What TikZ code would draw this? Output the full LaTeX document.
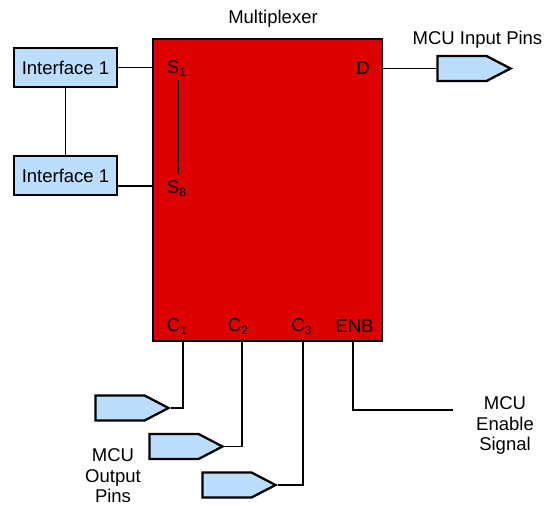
\documentclass[tikz,border=0pt]{standalone}
\usepackage{fontspec}
\setmainfont{Liberation Sans}
\usetikzlibrary{shapes.symbols}
\definecolor{muxred}{RGB}{221,0,0}
\definecolor{pinblue}{RGB}{187,222,255}
\newcommand{\lowsub}[1]{\raisebox{-3pt}{\fontsize{12}{12}\selectfont #1}}
\tikzset{
	iface/.style={draw, line width=0.8mm, fill=pinblue, minimum width=103pt, minimum height=39pt, inner sep=0pt},
	muxbox/.style={draw, line width=0.8mm, fill=muxred, minimum width=229pt, minimum height=302pt, inner sep=0pt},
	pinshape/.style={draw, line width=0.8mm, fill=pinblue, shape=signal, signal to=east, signal pointer angle=55, minimum width=73pt, minimum height=25pt, inner sep=0pt, anchor=east},
	lbl/.style={inner sep=0pt, font=\fontsize{18.5}{20.5}\selectfont, align=center},
	wire/.style={line width=0.6mm}
}
\begin{document}
\begin{tikzpicture}[x=1pt, y=-1pt]
			%%%%% START %%%%%
			\useasboundingbox (0, 0) rectangle (544, 506);
			
			\node[muxbox] (mux) at (267.5, 190) {};
			\node[lbl] (title) at (273, 19) {Multiplexer};
			
			\node[iface] (if1) at (65.5, 67.5) {\fontsize{18.5}{20}\selectfont Interface 1};
			\node[iface] (if2) at (65.5, 175.5) {\fontsize{18.5}{20}\selectfont Interface 1};
			
			\node[lbl] (s1) at (176.5, 69) {S\lowsub{1}};
			\node[lbl] (s8) at (176.5, 189) {S\lowsub{8}};
			\node[lbl] (dout) at (363, 68) {D};
			
			\node[lbl] (c1) at (177, 327) {C\lowsub{1}};
			\node[lbl] (c2) at (238, 327) {C\lowsub{2}};
			\node[lbl] (c3) at (301.5, 327) {C\lowsub{3}};
			\node[lbl] (enb) at (354.5, 326) {ENB};
			
			\node[pinshape] (din) at (513, 68.5) {};
			\node[lbl] (dintxt) at (477.5, 40) {MCU Input Pins};
			
			\node[pinshape] (p1) at (171, 408) {};
			\node[pinshape] (p2) at (225, 446.5) {};
			\node[pinshape] (p3) at (278, 485) {};
			\node[lbl] (pouttxt) at (113, 476) {MCU\\Output\\Pins};
			
			\node[lbl] (enbtxt) at (505, 425.5) {MCU\\Enable\\Signal};
			\coordinate (enbend) at (453, 410);
			
			% wires
			\draw[wire] (if1) -- (if2);
			\draw[wire] (if1.east) -- (if1.east -| mux.west);
			\draw[wire] ([yshift=-10.5pt]if2.east) -- ([yshift=-10.5pt]if2.east -| mux.west);
			\draw[wire, shorten <=11pt, shorten >=15pt] ([xshift=1.5pt]s1.center) -- ([xshift=1.5pt]s8.center);
			\draw[wire] (din.west -| mux.east) -- (din.west);
			
			\draw[wire] ([xshift=6pt]c1 |- mux.south) |- (p1.east);
			\draw[wire] ([xshift=4pt]c2 |- mux.south) |- (p2.east);
			\draw[wire] ([xshift=1.5pt]c3 |- mux.south) |- (p3.east);
			\draw[wire] ([xshift=-1.5pt]enb |- mux.south) |- (enbend);
			
			%%%%% END %%%%%
		\end{tikzpicture}
\end{document}
